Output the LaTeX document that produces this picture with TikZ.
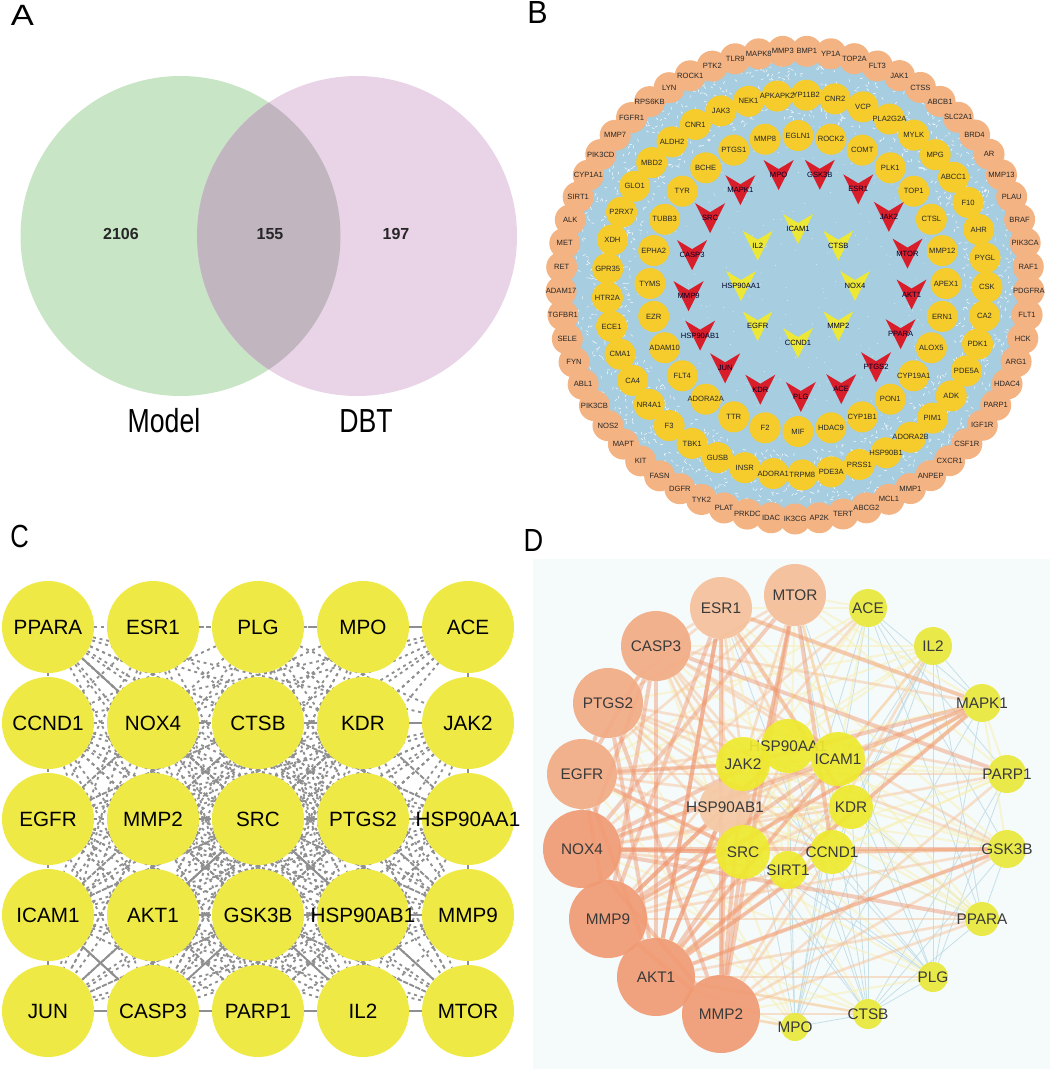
\documentclass[tikz,border=0pt]{standalone}
\usepackage{fontspec}
\setmainfont{Liberation Sans}
\def\px{0.75pt}
\newcommand{\lbl}[1]{\makebox[0pt]{#1}}
\definecolor{vennGreen}{HTML}{C8E5C6}
\definecolor{vennPink}{HTML}{E9D3E6}
\definecolor{vennBoth}{HTML}{C1B5C0}
\definecolor{ringBlue}{HTML}{A6CDE0}
\definecolor{ringPeach}{HTML}{F3B383}
\definecolor{ringGold}{HTML}{F5CC2C}
\definecolor{veeRed}{HTML}{D81E2A}
\definecolor{veeYellow}{HTML}{EDE835}
\definecolor{gridYellow}{HTML}{EFE945}
\definecolor{edgeGray}{HTML}{8F8F8F}
\definecolor{panelTint}{HTML}{F5FAFB}
\definecolor{darkText}{HTML}{3A3A3A}
\pgfdeclarelayer{back}
\pgfdeclarelayer{edges}
\pgfsetlayers{back,edges,main}
\tikzstyle{panelLetter}=[font = \fontsize{24pt}{24pt}\selectfont, inner sep = 0pt]
\tikzstyle{vennCount}=[font = \fontsize{12pt}{12pt}\selectfont\bfseries, inner sep = 0pt, text = black!85]
\tikzstyle{vennName}=[font = \fontsize{25pt}{25pt}\selectfont, xscale = 0.8, inner sep = 0pt]
\tikzstyle{ringNode}=[shape = circle, inner sep = 0pt, minimum size = 31*\px]
\tikzstyle{ringText}=[inner sep = 0pt, font = \fontsize{5.7pt}{5.7pt}\selectfont, text = black!85]
\tikzstyle{outerRing}=[ringNode, fill = ringPeach]
\tikzstyle{midRing}=[ringNode, fill = ringGold]
\tikzstyle{veeText}=[inner sep = 0pt, font = \fontsize{5.7pt}{5.7pt}\selectfont, text = black!85!blue]
\tikzstyle{gridNode}=[shape = circle, inner sep = 0pt, minimum size = 92*\px, fill = gridYellow, font = \fontsize{15.5pt}{15.5pt}\selectfont]
\tikzstyle{gridEdge}=[edgeGray, line width = 1.4pt, dash pattern = on 2.2pt off 2.8pt]
\tikzstyle{gridSolid}=[edgeGray, line width = 1.5pt]
\tikzstyle{weightNode}=[shape = circle, inner sep = 0pt, fill opacity = 0.92, text opacity = 1, text = darkText, font = \fontsize{11.5pt}{11.5pt}\selectfont]
\tikzstyle{edgeThick}=[draw = {rgb,255:red,240;green,150;blue,110}, line width = 3pt, draw opacity = 0.45]
\tikzstyle{edgeMid}=[draw = {rgb,255:red,246;green,196;blue,155}, line width = 2pt, draw opacity = 0.5]
\tikzstyle{edgeLow}=[draw = {rgb,255:red,248;green,240;blue,175}, line width = 1.5pt, draw opacity = 0.5]
\tikzstyle{edgeThin}=[draw = {rgb,255:red,185;green,218;blue,228}, line width = 0.6pt, draw opacity = 0.8]
\begin{document}
\begin{tikzpicture}[x = 0.75pt, y = -0.75pt]
\useasboundingbox (0,0) rectangle (1052,1071);
% panel A
\fill[vennGreen] (180.5,236) circle (160);
\fill[vennPink] (357,236) circle (160);
\begin{scope}
\clip (180.5,236) circle (160);
\fill[vennBoth] (357,236) circle (160);
\end{scope}
\node[panelLetter, font = \fontsize{22pt}{22pt}\selectfont, xscale = 1.18] (letterA) at (22.5,15.5) {A};
\node[vennCount] (countModel) at (121,234) {2106};
\node[vennCount] (countBoth) at (270,234) {155};
\node[vennCount] (countDBT) at (396,234) {197};
\node[vennName] (nameModel) at (164,421) {Model};
\node[vennName] (nameDBT) at (366,421) {DBT};
% panel B
\node[panelLetter, xscale = 0.95] (letterB) at (537.5,12.5) {B};
\begin{pgfonlayer}{back}
\begin{scope}[shift = {(796,285)}]
\fill[ringBlue] (0,0) circle (226);
\pgfmathsetseed{11}
\foreach \k in {1,...,1500}{
\pgfmathsetmacro\ra{rnd*360}
\pgfmathsetmacro\rb{166+rnd*58}
\pgfmathsetmacro\rc{rnd*360}
\draw[white, line width = 0.35pt, line cap = round] (\ra:\rb) -- ++(\rc:2.6);
}
\foreach \k in {1,...,260}{
\pgfmathsetmacro\ra{rnd*360}
\pgfmathsetmacro\rb{sqrt(rnd)*166}
\fill[white, opacity = 0.7] (\ra:\rb) circle (0.5);
}
\end{scope}
\end{pgfonlayer}
\def\outerlist{MMP3,BMP1,YP1A,TOP2A,FLT3,JAK1,CTSS,ABCB1,SLC2A1,BRD4,AR,MMP13,PLAU,BRAF,PIK3CA,RAF1,PDGFRA,FLT1,HCK,ARG1,HDAC4,PARP1,IGF1R,CSF1R,CXCR1,ANPEP,MMP1,MCL1,ABCG2,TERT,AP2K,IK3CG,IDAC,PRKDC,PLAT,TYK2,DGFR,FASN,KIT,MAPT,NOS2,PIK3CB,ABL1,FYN,SELE,TGFBR1,ADAM17,RET,MET,ALK,SIRT1,CYP1A1,PIK3CD,MMP7,FGFR1,RPS6KB,LYN,ROCK1,PTK2,TLR9,MAPK8}
\begin{scope}[shift = {(795,285)}]
\foreach \nm [count = \i from 0] in \outerlist{
\pgfmathsetmacro\ang{-93+\i*(360/61)}
\node[outerRing] (outer\i) at (\ang:234) {};
}
\end{scope}
\foreach \nm [count = \i from 0] in \outerlist{
\node[ringText] (outerText\i) at (outer\i) {\nm};
}
\def\midlist{APKAPK2,YP11B2,CNR2,VCP,PLA2G2A,MYLK,MPG,ABCC1,F10,AHR,PYGL,CSK,CA2,PDK1,PDE5A,ADK,PIM1,ADORA2B,HSP90B1,PRSS1,PDE3A,TRPM8,ADORA1,INSR,GUSB,TBK1,F3,NR4A1,CA4,CMA1,ECE1,HTR2A,GPR35,XDH,P2RX7,GLO1,MBD2,ALDH2,CNR1,JAK3,NEK1}
\begin{scope}[shift = {(797,285)}]
\foreach \nm [count = \i from 0] in \midlist{
\pgfmathsetmacro\ang{-96+\i*(360/41)}
\node[midRing] (mid\i) at (\ang:190) {};
}
\end{scope}
\foreach \nm [count = \i from 0] in \midlist{
\node[ringText] (midText\i) at (mid\i) {\nm};
}
\begin{scope}[shift = {(798,283.5)}]
\foreach \nm [count = \i from 0] in {EGLN1,ROCK2,COMT,PLK1,TOP1,CTSL,MMP12,APEX1,ERN1,ALOX5,CYP19A1,PON1,CYP1B1,HDAC9,MIF,F2,TTR,ADORA2A,FLT4,ADAM10,EZR,TYMS,EPHA2,TUBB3,TYR,BCHE,PTGS1,MMP8}{
\pgfmathsetmacro\ang{-90+\i*(360/28)}
\node[midRing] (inner\i) at (\ang:148) {};
\node[ringText] (innerText\i) at (inner\i) {\nm};
}
\end{scope}
\begin{scope}[shift = {(800,285)}]
\foreach \nm [count = \i from 0] in {MPO,GSK3B,ESR1,JAK2,MTOR,AKT1,PPARA,PTGS2,ACE,PLG,KDR,JUN,HSP90AB1,MMP9,CASP3,SRC,MAPK1}{
\pgfmathsetmacro\ang{-101+\i*(360/17)}
\fill[veeRed] (\ang:112) ++(-15,-15) -- ++(15,9) -- ++(15,-9) -- ++(-15,30) -- cycle;
\node[veeText] (red\i) at (\ang:112) {\nm};
}
\end{scope}
\begin{scope}[shift = {(798,286)}]
\foreach \nm [count = \i from 0] in {ICAM1,CTSB,NOX4,MMP2,CCND1,EGFR,HSP90AA1,IL2}{
\pgfmathsetmacro\ang{-90+\i*45}
\fill[veeYellow] (\ang:57) ++(-15,-15) -- ++(15,9) -- ++(15,-9) -- ++(-15,30) -- cycle;
\node[veeText] (yel\i) at (\ang:57) {\nm};
}
\end{scope}
% panel C
\node[panelLetter, xscale = 0.8] (letterC) at (19.5,536) {C};
\foreach \nm [count = \i from 0] in {PPARA,ESR1,PLG,MPO,ACE,CCND1,NOX4,CTSB,KDR,JAK2,EGFR,MMP2,SRC,PTGS2,HSP90AA1,ICAM1,AKT1,GSK3B,HSP90AB1,MMP9,JUN,CASP3,PARP1,IL2,MTOR}{
\pgfmathtruncatemacro\col{mod(\i,5)}
\pgfmathtruncatemacro\row{div(\i,5)}
\node[gridNode] (grid\i) at (48+105*\col,627+96*\row) {\lbl{\nm}};
}
\begin{pgfonlayer}{edges}
\foreach \i in {0,...,23}{
\pgfmathtruncatemacro\k{\i+1}
\foreach \j in {\k,...,24}{
\pgfmathtruncatemacro\h{mod(\i*7+\j*11,5)}
\pgfmathtruncatemacro\lim{\i<5 ? 2 : 0}
\ifnum\h<\lim\else
\draw[gridEdge] (grid\i) -- (grid\j);
\fi
}
}
\foreach \i/\j in {0/1,1/2,2/3,3/4,0/5,5/10,10/15,15/20}{
\draw[gridEdge] (grid\i) -- (grid\j);
}
\foreach \i/\j in {20/21,21/22,22/23,23/24,4/9,9/14,14/19,19/24,0/6,15/21}{
\draw[gridSolid] (grid\i) -- (grid\j);
}
\end{pgfonlayer}
% panel D
\node[panelLetter, xscale = 0.85] (letterD) at (533.5,540) {D};
\begin{pgfonlayer}{back}
\fill[panelTint] (533,559) rectangle (1050,1069);
\end{pgfonlayer}
\foreach \nm/\x/\y/\r/\col in {MTOR/795/595/31/F5BE98,ESR1/721/608/31/F5C09B,CASP3/656/646/35/F2AB84,PTGS2/608/703/35/F2AB84,EGFR/582/774/35/F2AB84,NOX4/582/849/39/F09A73,MMP9/608/919/39/F09A73,AKT1/656/977/39/F09A73,MMP2/721/1014/39/F09A73,MPO/795/1027/14/E9E83A,CTSB/868/1014/15/E9E83A,PLG/933/977/15/E9E83A,PPARA/982/919/17/E9E83A,GSK3B/1007/849/19/E9E83A,PARP1/1007/774/19/E9E83A,MAPK1/982/703/19/E9E83A,IL2/933/646/19/E9E83A,ACE/868/608/19/E9E83A,HSP90AB1/725/807/26/F5C9A5,HSP90AA1/788/746/27/EEEA2E,JAK2/743/764/27/EEEA2E,ICAM1/838/759/27/EEEA2E,KDR/851/807/22/EEEA2E,SRC/743/852/27/EEEA2E,CCND1/832/852/22/EEEA2E,SIRT1/788/870/19/EEEA2E}{
\definecolor{nodeFill}{HTML}{\col}
\node[weightNode, fill = nodeFill, minimum size = 2*\r*\px] (w\nm) at (\x,\y) {\lbl{\nm}};
}
\def\weightlist{MPO/0,CTSB/0,PLG/0,PPARA/1,ACE/1,IL2/1,MAPK1/2,PARP1/2,GSK3B/2,KDR/2,CCND1/2,SIRT1/2,MTOR/3,ESR1/3,HSP90AA1/3,JAK2/3,ICAM1/3,SRC/3,HSP90AB1/3,CASP3/4,PTGS2/4,EGFR/4,NOX4/5,MMP9/5,AKT1/5,MMP2/5}
\begin{pgfonlayer}{edges}
\foreach \a/\wa [count = \i] in \weightlist{
\foreach \b/\wb [count = \j] in \weightlist{
\ifnum\j>\i
\pgfmathtruncatemacro\s{\wa+\wb}
\pgfmathtruncatemacro\h{mod(\i*7+\j*11,5)}
\ifnum\h<2\else
\ifnum\s>7 \def\es{edgeThick}\else\ifnum\s>5 \def\es{edgeMid}\else\ifnum\s>3 \def\es{edgeLow}\else\def\es{edgeThin}\fi\fi\fi
\draw[\es] (w\a) -- (w\b);
\fi
\fi
}
}
\foreach \a/\b in {AKT1/CTSB,MMP2/MPO,AKT1/PLG,MMP2/CTSB}{
\draw[edgeMid] (w\a) -- (w\b);
}
\foreach \a/\b in {NOX4/GSK3B,AKT1/GSK3B,AKT1/MAPK1,ESR1/MAPK1,CASP3/PARP1,MTOR/SRC,MTOR/CCND1,EGFR/JAK2,NOX4/SRC,CCND1/GSK3B,MMP9/MAPK1,NOX4/PPARA,AKT1/SRC,AKT1/CCND1,ESR1/KDR,ESR1/AKT1,CASP3/AKT1,EGFR/SRC,MAPK1/JAK2,ICAM1/MAPK1}{
\draw[edgeThick] (w\a) -- (w\b);
}
\end{pgfonlayer}
\end{tikzpicture}
\end{document}
